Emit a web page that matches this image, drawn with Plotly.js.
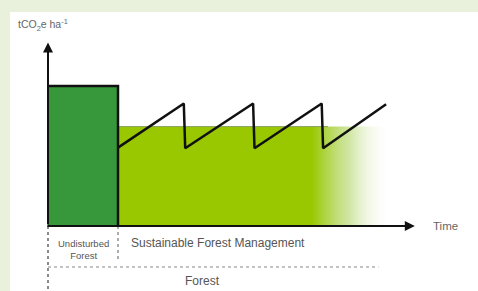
<!DOCTYPE html>
<html>
<head>
<meta charset="utf-8">
<script src="https://cdn.plot.ly/plotly-3.0.1.min.js"></script>
<style>html,body{margin:0;padding:0;background:#e9f0dc;}#chart{width:478px;height:291px;}</style>
</head>
<body>
<div id="chart"></div>
<script>
// Data (time units, tCO2e/ha units)
var undisturbedX = [0, 10];
var undisturbedStock = 100;
var sfmX = [10, 49];
var sfmAverage = 71;
var sawX = [10, 19.4, 19.6, 29.3, 29.5, 39.1, 39.3, 48.3];
var sawY = [56, 87.5, 55.5, 87.5, 55.5, 87.5, 55.5, 87];
var axisTop = 131;
var axisEnd = 52.4;
var labels = {
  yTitle: "tCO<sub>2</sub>e ha<sup>-1</sup>",
  xTitle: "Time",
  undisturbed: "Undisturbed<br>Forest",
  sfm: "Sustainable Forest Management",
  forest: "Forest"
};

var traces = [
  { // light green SFM area with fade
    type: "scatter", mode: "lines",
    x: [sfmX[0], sfmX[1], sfmX[1], sfmX[0], sfmX[0]],
    y: [sfmAverage, sfmAverage, 0, 0, sfmAverage],
    fill: "toself",
    line: {width: 0},
    fillgradient: {type: "horizontal",
      colorscale: [[0, "#99c800"], [0.71, "#99c800"], [0.85, "rgba(185,218,120,0.65)"], [1, "rgba(255,255,255,0)"]]},
    hoverinfo: "skip", showlegend: false
  },
  { // top edge of SFM area
    type: "scatter", mode: "lines",
    x: [sfmX[0], 40], y: [sfmAverage, sfmAverage],
    line: {color: "#8a9f60", width: 1},
    hoverinfo: "skip", showlegend: false
  },
  { // undisturbed forest block
    type: "scatter", mode: "lines",
    x: [undisturbedX[0], undisturbedX[0], undisturbedX[1], undisturbedX[1], undisturbedX[0]],
    y: [0, undisturbedStock, undisturbedStock, 0, 0],
    fill: "toself", fillcolor: "#36983a",
    line: {width: 0},
    hoverinfo: "skip", showlegend: false
  },
  { // outline top and right of block
    type: "scatter", mode: "lines",
    x: [undisturbedX[0], undisturbedX[1], undisturbedX[1]],
    y: [undisturbedStock, undisturbedStock, 0],
    line: {color: "#111", width: 2.5},
    hoverinfo: "skip", showlegend: false
  },
  { // sawtooth
    type: "scatter", mode: "lines",
    x: sawX, y: sawY,
    line: {color: "#111", width: 2.5},
    hoverinfo: "skip", showlegend: false
  }
];

var layout = {
  width: 478, height: 291,
  margin: {l: 10, r: 0, t: 12, b: 0},
  paper_bgcolor: "#e9f0dc",
  plot_bgcolor: "#ffffff",
  font: {family: "Liberation Sans, Arial, sans-serif", color: "#555"},
  xaxis: {range: [-5.4286, 61.4286], visible: false, fixedrange: true},
  yaxis: {range: [-46.43, 152.857], visible: false, fixedrange: true},
  showlegend: false,
  shapes: [
    {type: "line", x0: 0, x1: 0, y0: 0, y1: -50, line: {color: "#666", width: 1.5, dash: "dot"}},
    {type: "line", x0: 10, x1: 10, y0: 0, y1: -24.5, line: {color: "#777", width: 1.2, dash: "dot"}},
    {type: "line", x0: 0, x1: 47.2, y0: -29.3, y1: -29.3, line: {color: "#888", width: 1.2, dash: "dot"}}
  ],
  annotations: [
    {x: 0, y: axisTop, ax: 0, ay: 0, xref: "x", yref: "y", axref: "x", ayref: "y",
     text: "", showarrow: true, arrowhead: 2, arrowsize: 1, arrowwidth: 2, arrowcolor: "#111"},
    {x: axisEnd, y: 0, ax: -0.3, ay: 0, xref: "x", yref: "y", axref: "x", ayref: "y",
     text: "", showarrow: true, arrowhead: 2, arrowsize: 1, arrowwidth: 2, arrowcolor: "#111"},
    {x: -4.6, y: 143.5, xref: "x", yref: "y", xanchor: "left", yanchor: "middle", showarrow: false,
     text: labels.yTitle, font: {size: 10.5, color: "#666"}},
    {x: 54.7, y: 0.3, xref: "x", yref: "y", xanchor: "left", yanchor: "middle", showarrow: false,
     text: labels.xTitle, font: {size: 11.5, color: "#666"}},
    {x: 5, y: -16.8, xref: "x", yref: "y", xanchor: "center", yanchor: "middle", showarrow: false,
     text: labels.undisturbed, font: {size: 9.5, color: "#555"}},
    {x: 11.6, y: -12.1, xref: "x", yref: "y", xanchor: "left", yanchor: "middle", showarrow: false,
     text: labels.sfm, font: {size: 12, color: "#555"}},
    {x: 22, y: -39.3, xref: "x", yref: "y", xanchor: "center", yanchor: "middle", showarrow: false,
     text: labels.forest, font: {size: 12, color: "#555"}}
  ]
};

Plotly.newPlot("chart", traces, layout, {displayModeBar: false, staticPlot: true});
</script>
</body>
</html>
